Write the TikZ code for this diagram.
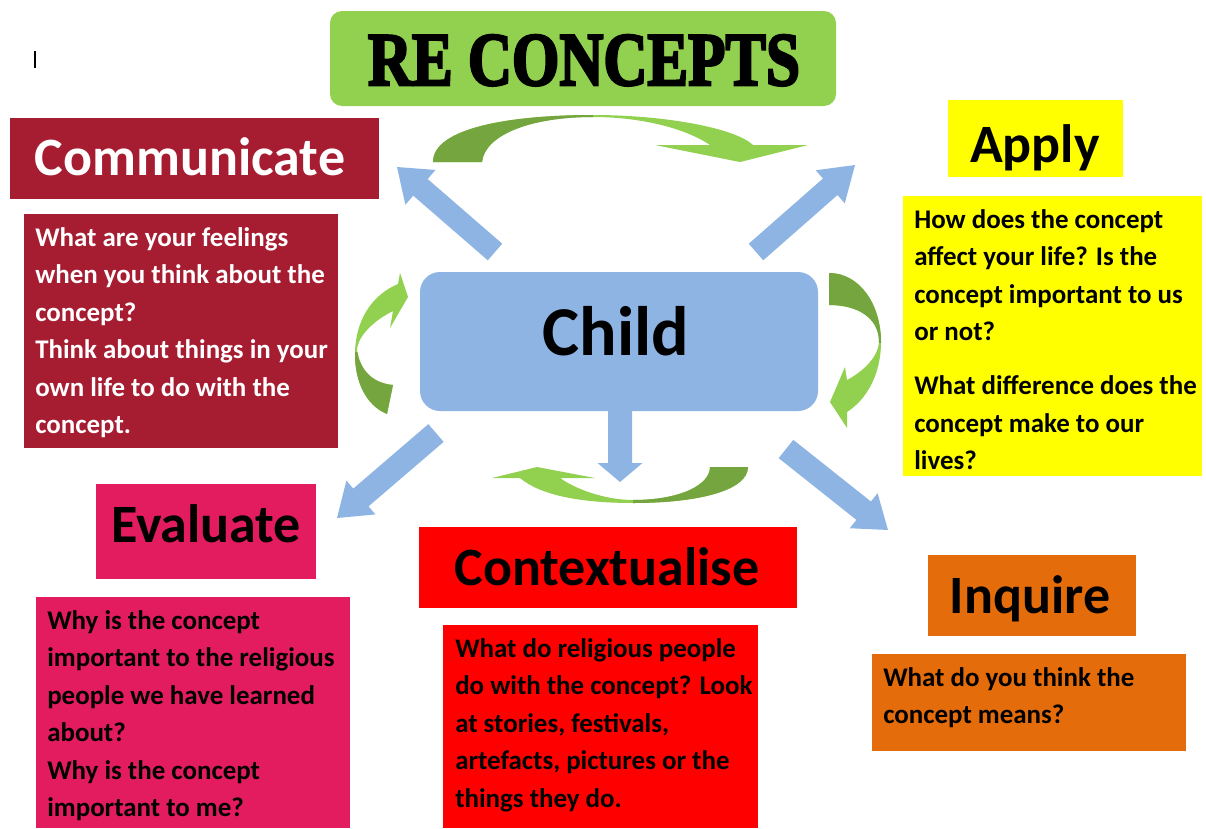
\documentclass[tikz,border=0pt]{standalone}
\usepackage{fontspec}
\setmainfont{Carlito}
\newfontfamily\titlefont[FakeBold=3.5]{Liberation Serif}
\usetikzlibrary{fit}
\definecolor{commred}{HTML}{A61C31}
\definecolor{evalpink}{HTML}{E31C5F}
\definecolor{inqorange}{HTML}{E46C0A}
\definecolor{childblue}{HTML}{8EB4E3}
\definecolor{lightgreen}{HTML}{92D050}
\definecolor{darkgreen}{HTML}{75A53F}
\definecolor{applyyellow}{HTML}{FFFF00}
\definecolor{contred}{HTML}{FF0000}

\newcommand\bluearrow[7]{% tailx taily angle length headlen headhalf shafthalf
  \begin{scope}[shift={(#1,#2)}, rotate=#3]
    \fill[childblue] (0,-#7) -- ({#4-#5},-#7) -- ({#4-#5},-#6) -- (#4,0) -- ({#4-#5},#6) -- ({#4-#5},#7) -- (0,#7) -- cycle;
  \end{scope}}
\newcommand\twotone[2]{% path, clip region for dark part
  \fill[lightgreen] #1;
  \begin{scope}\clip #2; \fill[darkgreen] #1; \end{scope}}

\begin{document}
\begin{tikzpicture}[x=0.75pt,y=-0.75pt,
  panel/.style={inner sep=0pt, outer sep=0pt, draw=none},
  headtext/.style={inner sep=0pt, anchor=base, font=\fontsize{40.5}{48}\selectfont\bfseries},
  bodytext/.style={inner sep=0pt, anchor=north west, align=left, font=\fontsize{20.2}{28.1}\selectfont\bfseries},
]
\useasboundingbox[fill=white] (0,0) rectangle (1206,828);

% boxes
\node[panel, fit={(330,11) (836,106)}, fill=lightgreen, rounded corners=9pt] (title) {};
\node[panel, fit={(10,118) (379,199)}, fill=commred] (commhead) {};
\node[panel, fit={(24,214) (338,448)}, fill=commred] (commbody) {};
\node[panel, fit={(948,100) (1123,177)}, fill=applyyellow] (applyhead) {};
\node[panel, fit={(903,196) (1202,476)}, fill=applyyellow] (applybody) {};
\node[panel, fit={(420,272) (818,411)}, fill=childblue, rounded corners=15pt] (child) {};
\node[panel, fit={(96,484) (316,579)}, fill=evalpink] (evalhead) {};
\node[panel, fit={(36,597) (350,828)}, fill=evalpink] (evalbody) {};
\node[panel, fit={(419,527) (797,608)}, fill=contred] (conthead) {};
\node[panel, fit={(443,625) (758,828)}, fill=contred] (contbody) {};
\node[panel, fit={(928,555) (1136,636)}, fill=inqorange] (inqhead) {};
\node[panel, fit={(872,654) (1186,751)}, fill=inqorange] (inqbody) {};

% cursor mark
\draw[line width=1pt] (35,51) -- (35,68);

% title
\node[inner sep=0pt, anchor=base] (titletext) at (584,85)
  {\resizebox{324pt}{37.5pt}{\titlefont\bfseries RE CONCEPTS}};

% headers
\node[headtext, text=white] (commlabel) at (190,175) {Communicate};
\node[headtext] (applylabel) at (1035,162) {Apply};
\node[headtext] (evallabel) at (206,542) {Evaluate};
\node[headtext] (contlabel) at (607,585) {Contextualise};
\node[headtext] (inqlabel) at (1030,613) {Inquire};
\node[inner sep=0pt, anchor=base, font=\fontsize{52.5}{60}\selectfont\bfseries] (childlabel) at (616,355) {Child};

% body texts
\node[bodytext, text=white] (commtext) at (35,220) {\strut What are your feelings\\ when you think about the\\ concept?\\ Think about things in your\\ own life to do with the\\ concept.};
\node[bodytext] (applytext) at (914,202) {\strut How does the concept\\ affect your life? Is the\\ concept important to us\\ or not?\\[12.4pt] What difference does the\\ concept make to our\\ lives?};
\node[bodytext] (evaltext) at (47,603) {\strut Why is the concept\\ important to the religious\\ people we have learned\\ about?\\ Why is the concept\\ important to me?};
\node[bodytext] (conttext) at (455,631) {\strut What do religious people\\ do with the concept? Look\\ at stories, festivals,\\ artefacts, pictures or the\\ things they do.};
\node[bodytext] (inqtext) at (883,660) {\strut What do you think the\\ concept means?};

% blue block arrows
\bluearrow{495}{252}{139.06}{129.7}{31}{23}{11}
\bluearrow{756}{252}{41.3}{131.8}{33}{22}{11}
\bluearrow{436}{433}{-139.35}{130.5}{31.5}{22.3}{11.7}
\bluearrow{786}{449}{-38.46}{130.2}{31}{22.4}{11.7}
\bluearrow{620}{411}{-90}{71}{19}{22.5}{12}

% green curved arrows
% top
\twotone{(433,162) .. controls (433,128) and (510,115) .. (593,115) .. controls (665,115) and (735,128) .. (753,145) -- (808,145) -- (740,162) -- (655,145) -- (710,145) .. controls (685,128) and (640,117) .. (593,117) .. controls (530,117) and (485,135) .. (482,162) -- cycle}
  {(0,0) rectangle (593,828)}
% right
\twotone{(829,273) .. controls (860,273) and (881,305) .. (881,342) .. controls (881,375) and (866,400) .. (847,412) -- (847,428) -- (830,402) -- (845,367) -- (847,380) .. controls (862,372) and (878,358) .. (879,342) .. controls (879,318) and (858,305) .. (829,305) -- cycle}
  {(0,0) rectangle (1206,342)}
% left
\twotone{(387,414) .. controls (365,405) and (355,380) .. (355,355) .. controls (355,320) and (372,295) .. (398,284) -- (400,273) -- (408,297) -- (390,328) -- (393,311) .. controls (375,320) and (358,335) .. (357,350) .. controls (360,370) and (372,383) .. (393,385) -- cycle}
  {(0,352) rectangle (1206,828)}
% bottom
\twotone{(748,467) .. controls (748,490) and (700,503) .. (633,503) .. controls (580,503) and (540,495) .. (520,478) -- (492,478) -- (537,467) -- (595,478) -- (560,478) .. controls (580,492) and (610,500) .. (633,500) .. controls (680,500) and (710,485) .. (710,467) -- cycle}
  {(633,0) rectangle (1206,828)}
\end{tikzpicture}
\end{document}
